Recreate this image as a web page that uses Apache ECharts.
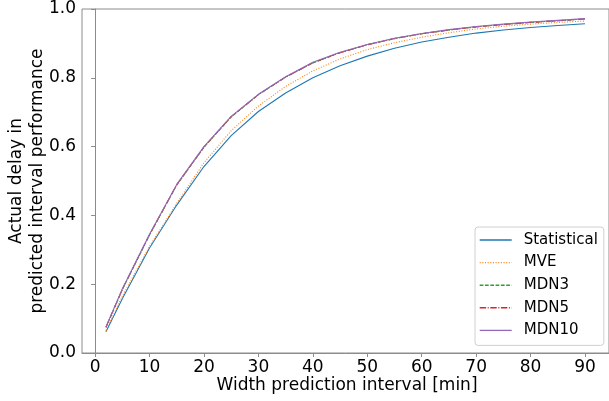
<!DOCTYPE html>
<html>
<head>
<meta charset="utf-8">
<script src="https://cdn.jsdelivr.net/npm/echarts@6/dist/echarts.min.js"></script>
<style>
  html, body { margin: 0; padding: 0; background: #fff; }
  #chart { width: 609px; height: 401px; }
</style>
</head>
<body>
<div id="chart"></div>
<script>
// Width of the prediction interval in minutes
const widths = [2, 5, 10, 15, 20, 25, 30, 35, 40, 45, 50, 55, 60, 65, 70, 75, 80, 85, 90];

// Share of actual delays falling inside the predicted interval
const statistical = [0.062, 0.158, 0.305, 0.430, 0.542, 0.632, 0.702, 0.756, 0.800, 0.835, 0.863, 0.886, 0.904, 0.918, 0.930, 0.939, 0.946, 0.952, 0.957];
const mve         = [0.065, 0.165, 0.310, 0.435, 0.553, 0.646, 0.718, 0.775, 0.820, 0.855, 0.882, 0.902, 0.918, 0.931, 0.942, 0.950, 0.956, 0.961, 0.965];
const mdn3        = [0.074, 0.184, 0.343, 0.488, 0.598, 0.686, 0.751, 0.802, 0.843, 0.873, 0.896, 0.914, 0.928, 0.939, 0.948, 0.955, 0.961, 0.966, 0.971];
const mdn5        = [0.075, 0.185, 0.344, 0.489, 0.599, 0.687, 0.751, 0.802, 0.844, 0.873, 0.896, 0.914, 0.928, 0.939, 0.948, 0.955, 0.961, 0.966, 0.971];
const mdn10       = [0.076, 0.186, 0.345, 0.490, 0.600, 0.688, 0.752, 0.803, 0.845, 0.874, 0.897, 0.915, 0.929, 0.940, 0.949, 0.956, 0.962, 0.967, 0.972];

const xTicks = [0, 10, 20, 30, 40, 50, 60, 70, 80, 90];

const FONT = '"DejaVu Sans", "Liberation Sans", sans-serif';
const SPINE = '#8c8c8c';

function pairs(values) {
  return widths.map((w, i) => [w, values[i]]);
}

function lineSeries(name, values, color, dash) {
  return {
    name: name,
    type: 'line',
    data: pairs(values),
    symbol: 'none',
    showSymbol: false,
    smooth: false,
    animation: false,
    lineStyle: { color: color, width: 1.1, type: dash },
    itemStyle: { color: color },
    emphasis: { disabled: true }
  };
}

const chart = echarts.init(document.getElementById('chart'), null, { renderer: 'canvas' });

chart.setOption({
  animation: false,
  backgroundColor: '#fff',
  grid: {
    left: 82, right: -7, top: 9, bottom: 48,
    show: true, borderColor: SPINE, borderWidth: 1, backgroundColor: 'transparent'
  },
  xAxis: {
    type: 'value',
    min: -2.4,
    max: 94.4,
    splitLine: { show: false },
    axisLine: { show: true, lineStyle: { color: SPINE, width: 1 } },
    axisTick: { show: true, customValues: xTicks, length: 4, lineStyle: { color: SPINE } },
    axisLabel: {
      customValues: xTicks,
      color: '#000', fontFamily: FONT, fontSize: 17, margin: 6
    }
  },
  yAxis: {
    type: 'value',
    min: 0,
    max: 1,
    interval: 0.2,
    splitLine: { show: false },
    axisLine: { show: true, lineStyle: { color: SPINE, width: 1 } },
    axisTick: { show: true, length: 4, lineStyle: { color: SPINE } },
    axisLabel: {
      color: '#000', fontFamily: FONT, fontSize: 17, margin: 6,
      formatter: v => v.toFixed(1)
    }
  },
  legend: {
    orient: 'vertical',
    left: 475,
    top: 227,
    padding: [4, 6, 6, 4],
    itemWidth: 32,
    itemHeight: 14,
    itemGap: 4.6,
    // legend keys show only the line sample, no marker
    itemStyle: { opacity: 0 },
    lineStyle: { width: 1.4 },
    backgroundColor: 'rgba(255,255,255,0.8)',
    borderColor: '#d0d0d0',
    borderWidth: 1,
    borderRadius: 3,
    textStyle: { color: '#000', fontFamily: FONT, fontSize: 15, lineHeight: 18, padding: [0, 0, 0, 7] },
    data: ['Statistical', 'MVE', 'MDN3', 'MDN5', 'MDN10']
  },
  graphic: [
    {
      type: 'text', x: 347, y: 386, silent: true,
      style: { text: 'Width prediction interval [min]', font: '17px ' + FONT, fill: '#000', align: 'center', verticalAlign: 'middle' }
    },
    {
      type: 'text', x: 17, y: 181, rotation: Math.PI / 2, silent: true,
      style: { text: 'Actual delay in', font: '17px ' + FONT, fill: '#000', align: 'center', verticalAlign: 'middle' }
    },
    {
      type: 'text', x: 38, y: 181, rotation: Math.PI / 2, silent: true,
      style: { text: 'predicted interval performance', font: '17px ' + FONT, fill: '#000', align: 'center', verticalAlign: 'middle' }
    }
  ],
  series: [
    lineSeries('Statistical', statistical, '#1f77b4', 'solid'),
    lineSeries('MVE', mve, '#ff7f0e', [1, 1.65]),
    lineSeries('MDN3', mdn3, '#2ca02c', [3.7, 1.6]),
    lineSeries('MDN5', mdn5, '#d62728', [6.4, 1.6, 1, 1.6]),
    lineSeries('MDN10', mdn10, '#9467bd', 'solid')
  ]
});
</script>
</body>
</html>
